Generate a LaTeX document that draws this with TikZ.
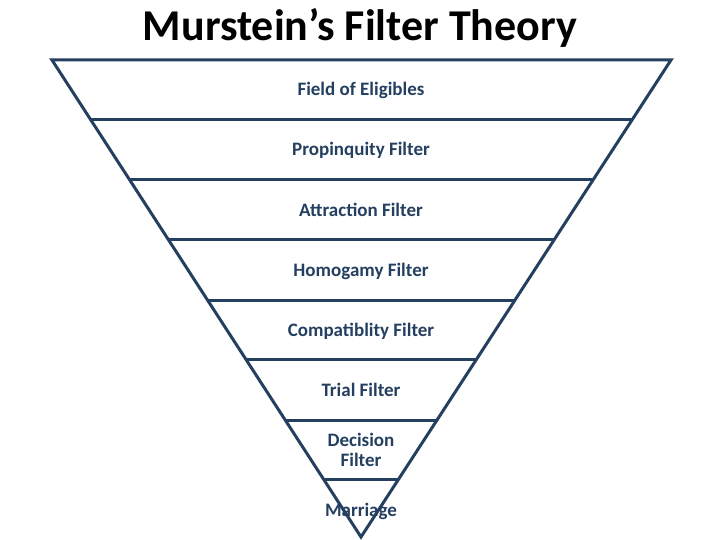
\documentclass[tikz,border=0pt]{standalone}
\usepackage{fontspec}
\setmainfont{Carlito}
\usetikzlibrary{calc}
\definecolor{navy}{HTML}{243F60}
\begin{document}
\begin{tikzpicture}[x=1pt,y=-1pt,
  edge/.style={draw=navy,line width=3pt,line join=miter},
  lbl/.style={text=navy,font=\bfseries\fontsize{19}{20}\selectfont,align=center,inner sep=0pt,anchor=base}]
\useasboundingbox (0,0) rectangle (720,540);
\node[font=\bfseries\fontsize{44}{48}\selectfont,text=black,inner sep=0pt] (title) at (360,28) {Murstein’s Filter Theory};
\coordinate (A) at (52,60);
\coordinate (B) at (671,60);
\coordinate (C) at (361,537);
\draw[edge] (A) -- (B) -- (C) -- cycle;
\foreach \yy in {120,180,240,300,360,420,480}{
  \pgfmathsetmacro{\t}{(\yy-60)/477}
  \draw[edge] ($(A)!\t!(C)$) -- ($(B)!\t!(C)$);
}
\node[lbl] (n1) at (361,96) {Field of Eligibles};
\node[lbl] (n2) at (361,156) {Propinquity Filter};
\node[lbl] (n3) at (361,216) {Attraction Filter};
\node[lbl] (n4) at (361,276) {Homogamy Filter};
\node[lbl] (n5) at (361,336) {Compatiblity Filter};
\node[lbl] (n6) at (361,396) {Trial Filter};
\node[lbl] (n7) at (361,466) {Decision\\Filter};
\node[lbl] (n8) at (361,516) {Marriage};
\end{tikzpicture}
\end{document}
